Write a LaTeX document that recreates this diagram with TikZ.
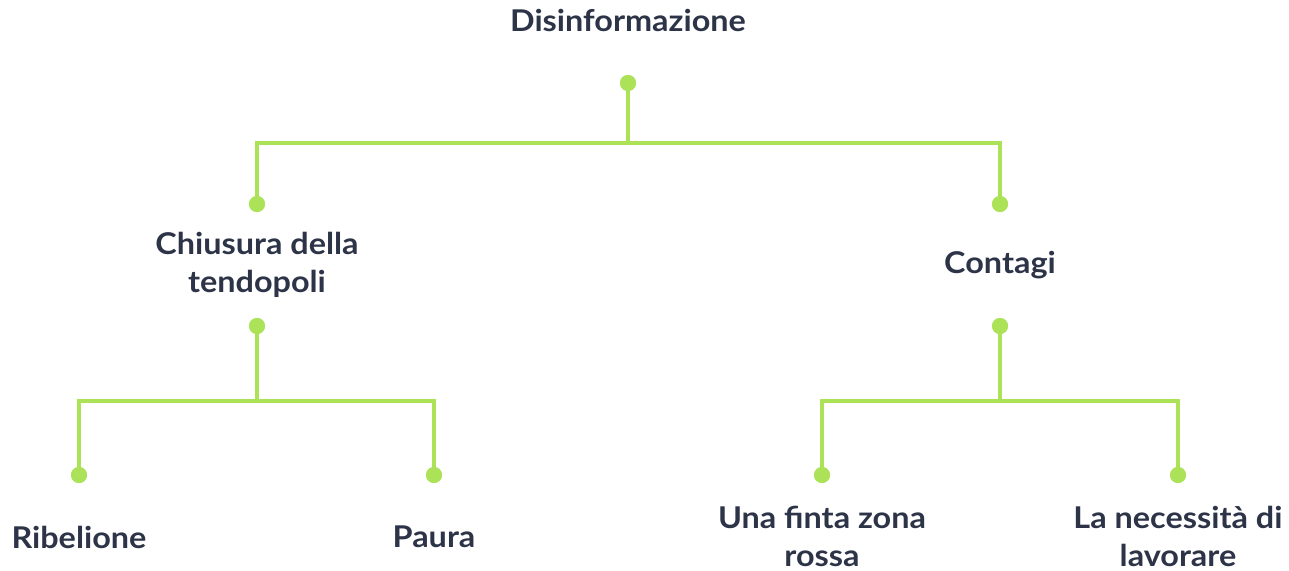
\documentclass[tikz,border=0pt]{standalone}
\usepackage{fontspec}
\setmainfont{Lato}[FakeStretch=1.08]
\definecolor{lime}{RGB}{172,226,88}
\definecolor{ink}{RGB}{45,52,72}
\tikzset{
  lbl/.style={font=\fontsize{30}{38}\selectfont\bfseries, text=ink, align=center, inner sep=0pt},
  dot/.style={circle, fill=lime, minimum size=16pt, inner sep=0pt},
  link/.style={draw=lime, line width=3.5pt, line join=miter}
}
\begin{document}
\begin{tikzpicture}[x=1pt,y=-1pt]
\useasboundingbox (0,0) rectangle (1289,570);
% labels
\node[lbl] (root) at (628,20) {Disinformazione};
\node[lbl] (chi) at (257,265) {Chiusura della\\tendopoli};
\node[lbl] (con) at (1000,265) {Contagi};
\node[lbl] (rib) at (79,537) {Ribelione};
\node[lbl] (pau) at (434,537) {Paura};
\node[lbl] (una) at (822,536) {Una finta zona\\rossa};
\node[lbl] (nec) at (1178,536) {La necessità di\\lavorare};
% dots
\node[dot] (d0) at (628,83) {};
\node[dot] (d1i) at (257,204) {};
\node[dot] (d2i) at (1000,204) {};
\node[dot] (d1o) at (257,326) {};
\node[dot] (d2o) at (1000,326) {};
\node[dot] (d3) at (79,475) {};
\node[dot] (d4) at (434,475) {};
\node[dot] (d5) at (822,475) {};
\node[dot] (d6) at (1178,475) {};
\coordinate (j0) at (628,143);
\coordinate (j1) at (257,401);
\coordinate (j2) at (1000,401);
% connectors
\draw[link] (d0.center) -- (j0);
\draw[link] (j0) -| (d1i.center);
\draw[link] (j0) -| (d2i.center);
\draw[link] (d1o.center) -- (j1);
\draw[link] (j1) -| (d3.center);
\draw[link] (j1) -| (d4.center);
\draw[link] (d2o.center) -- (j2);
\draw[link] (j2) -| (d5.center);
\draw[link] (j2) -| (d6.center);
% redraw dots on top
\foreach \n in {d0,d1i,d2i,d1o,d2o,d3,d4,d5,d6} {\fill[lime] (\n) circle (8pt);}
\end{tikzpicture}
\end{document}
